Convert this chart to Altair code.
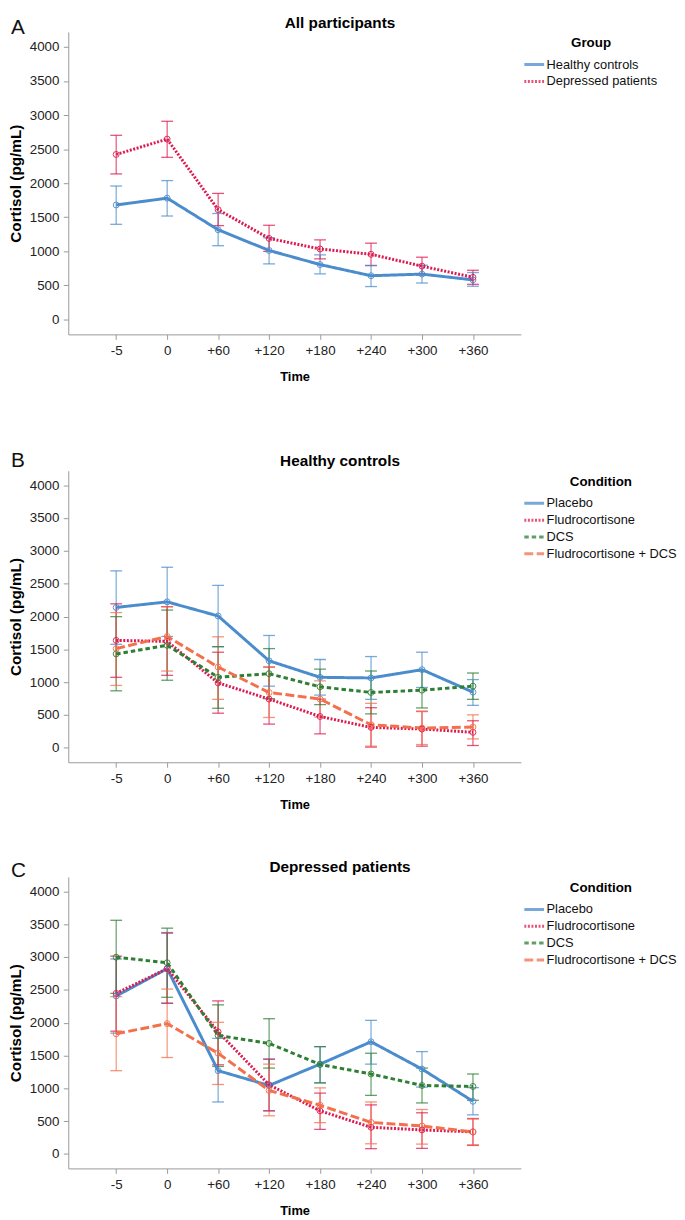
import altair as alt
import pandas as pd

FONT = "Liberation Sans"

times = ["-5", "0", "+60", "+120", "+180", "+240", "+300", "+360"]

# Panel A: All participants
a_groups = ["Healthy controls", "Depressed patients"]
a_hc_mean = [1680, 1780, 1316, 1012, 805, 641, 665, 580]
a_hc_lo = [1396, 1518, 1082, 815, 669, 482, 534, 487]
a_hc_hi = [1958, 2038, 1555, 1199, 946, 791, 796, 688]
a_dp_mean = [2422, 2647, 1611, 1189, 1034, 956, 782, 618]
a_dp_lo = [2136, 2380, 1377, 998, 890, 791, 651, 515]
a_dp_hi = [2703, 2909, 1850, 1382, 1167, 1119, 913, 721]

conditions = ["Placebo", "Fludrocortisone", "DCS", "Fludrocortisone + DCS"]

# Panel B: Healthy controls
b_pla_mean = [2138, 2223, 2008, 1325, 1074, 1064, 1190, 848]
b_pla_lo = [1576, 1696, 1540, 939, 803, 738, 919, 647]
b_pla_hi = [2695, 2750, 2474, 1711, 1345, 1390, 1456, 1039]
b_flu_mean = [1636, 1621, 989, 743, 477, 311, 286, 236]
b_flu_lo = [1074, 1104, 527, 361, 211, 11, 25, 35]
b_flu_hi = [2193, 2150, 1456, 1230, 743, 611, 557, 412]
b_dcs_mean = [1430, 1561, 1074, 1129, 929, 843, 878, 939]
b_dcs_lo = [868, 1029, 602, 748, 657, 517, 607, 738]
b_dcs_hi = [1998, 2098, 1541, 1511, 1200, 1170, 1170, 1139]
b_fd_mean = [1511, 1696, 1230, 843, 743, 351, 301, 316]
b_fd_lo = [950, 1169, 738, 462, 467, 25, 50, 136]
b_fd_hi = [2060, 2148, 1691, 1230, 1019, 678, 552, 502]

# Panel C: Depressed patients
c_pla_mean = [2406, 2822, 1268, 1043, 1368, 1709, 1293, 802]
c_pla_lo = [1840, 2296, 792, 657, 1083, 1368, 1018, 596]
c_pla_hi = [2970, 3373, 1760, 1444, 1634, 2035, 1559, 1010]
c_flu_mean = [2446, 2822, 1860, 1053, 657, 406, 366, 336]
c_flu_lo = [1870, 2296, 1358, 657, 376, 80, 85, 130]
c_flu_hi = [3013, 3363, 2331, 1444, 927, 747, 627, 540]
c_dcs_mean = [2997, 2912, 1805, 1684, 1363, 1218, 1043, 1028]
c_dcs_lo = [2446, 2386, 1333, 1308, 1083, 892, 777, 817]
c_dcs_hi = [3559, 3439, 2271, 2060, 1634, 1534, 1308, 1218]
c_fd_mean = [1830, 1985, 1534, 967, 742, 481, 426, 336]
c_fd_lo = [1268, 1469, 1058, 581, 476, 155, 150, 140]
c_fd_hi = [2396, 2511, 2005, 1368, 1008, 792, 677, 531]

colors = ["#4a8ccc", "#dc1a50", "#2e7f33", "#f2704c"]
dashes = [[1, 0], [2, 1.6], [4.5, 3], [9, 3.5]]


def frame(series, names, key):
    rows = []
    for name, (m, lo, hi) in zip(names, series):
        for t, mv, lv, hv in zip(times, m, lo, hi):
            rows.append({"time": t, key: name, "mean": mv, "lo": lv, "hi": hv})
    return pd.DataFrame(rows)


df_a = frame([(a_hc_mean, a_hc_lo, a_hc_hi), (a_dp_mean, a_dp_lo, a_dp_hi)], a_groups, "Group")
df_b = frame([(b_pla_mean, b_pla_lo, b_pla_hi), (b_flu_mean, b_flu_lo, b_flu_hi),
              (b_dcs_mean, b_dcs_lo, b_dcs_hi), (b_fd_mean, b_fd_lo, b_fd_hi)], conditions, "Condition")
df_c = frame([(c_pla_mean, c_pla_lo, c_pla_hi), (c_flu_mean, c_flu_lo, c_flu_hi),
              (c_dcs_mean, c_dcs_lo, c_dcs_hi), (c_fd_mean, c_fd_lo, c_fd_hi)], conditions, "Condition")


def panel(df, key, names, title, letter, height, letter_y):
    n = len(names)
    x = alt.X("time:N", sort=times,
              scale=alt.Scale(type="point", padding=0.94),
              axis=alt.Axis(title="Time", labelAngle=0))
    y_axis = alt.Axis(title="Cortisol (pg/mL)", values=list(range(0, 4001, 500)), format="d")
    y_scale = alt.Scale(domain=[-220, 4220], nice=False, zero=False)
    legend = alt.Legend(title=key, orient="none", legendX=462, legendY=4,
                        titleAnchor="middle", titleAlign="center")
    col = alt.Color(f"{key}:N", sort=names,
                    scale=alt.Scale(domain=names, range=colors[:n]), legend=legend)
    dash = alt.StrokeDash(f"{key}:N", sort=names,
                          scale=alt.Scale(domain=names, range=dashes[:n]), legend=legend)
    base = alt.Chart(df)
    rules = base.mark_rule(strokeWidth=1.2, opacity=0.75).encode(
        x=x, y=alt.Y("lo:Q", scale=y_scale, axis=y_axis), y2="hi:Q", color=col)
    cap_lo = base.mark_tick(size=12, thickness=1.3, opacity=0.75).encode(
        x=x, y=alt.Y("lo:Q", scale=y_scale, axis=y_axis), color=col)
    cap_hi = base.mark_tick(size=12, thickness=1.3, opacity=0.75).encode(
        x=x, y=alt.Y("hi:Q", scale=y_scale, axis=y_axis), color=col)
    line = base.mark_line(strokeWidth=3).encode(
        x=x, y=alt.Y("mean:Q", scale=y_scale, axis=y_axis), color=col, strokeDash=dash)
    pts = base.mark_point(shape="circle", filled=False, size=36, strokeWidth=1, opacity=0.9).encode(
        x=x, y=alt.Y("mean:Q", scale=y_scale, axis=y_axis), color=col)
    lab = alt.Chart(pd.DataFrame({"letter": [letter]})).mark_text(
        fontSize=21, font=FONT, align="left", baseline="alphabetic", color="#111").encode(
        x=alt.value(-58), y=alt.value(letter_y), text="letter:N")
    ttl = alt.Chart(pd.DataFrame({"title": [title]})).mark_text(
        fontSize=15.5, font=FONT, fontWeight="bold", align="center", baseline="middle",
        color="#000").encode(x=alt.value(275), y=alt.value(-9.5), text="title:N")
    return alt.layer(rules, cap_lo, cap_hi, line, pts, lab, ttl).properties(
        width=458, height=height)


pa = panel(df_a, "Group", a_groups, "All participants", "A", 306, 2)
pb = panel(df_b, "Condition", conditions, "Healthy controls", "B", 295, -4)
pc = panel(df_c, "Condition", conditions, "Depressed patients", "C", 295, 0)

bc = alt.vconcat(pb, pc, spacing=49).resolve_scale(
    color="independent", strokeDash="independent").resolve_legend(
    color="independent", strokeDash="independent")

chart = alt.vconcat(pa, bc, spacing=67).resolve_scale(
    color="independent", strokeDash="independent").resolve_legend(
    color="independent", strokeDash="independent").properties(
    padding=0).configure_view(stroke=None).configure_axis(
    grid=False, domainColor="#999", tickColor="#999", labelColor="#222",
    labelFont=FONT, titleFont=FONT, labelFontSize=13.5, tickSize=5,
    titleColor="#000").configure_axisY(
    labelPadding=4.5, titlePadding=5.5, titleFontSize=15.5, titleFontWeight="bold").configure_axisX(
    labelPadding=4.5, titlePadding=14, titleFontSize=13, titleFontWeight="bold").configure_legend(
    labelFont=FONT, titleFont=FONT, labelFontSize=13, titleFontSize=13.5, titleFontWeight="bold",
    symbolType="M-1.25,0H1.25", symbolStrokeWidth=3, symbolSize=256, labelOffset=3,
    rowPadding=0, titlePadding=6, labelColor="#111", titleColor="#000", labelLimit=200)

chart.save("out.html", embed_options={"renderer": "svg", "actions": False})
